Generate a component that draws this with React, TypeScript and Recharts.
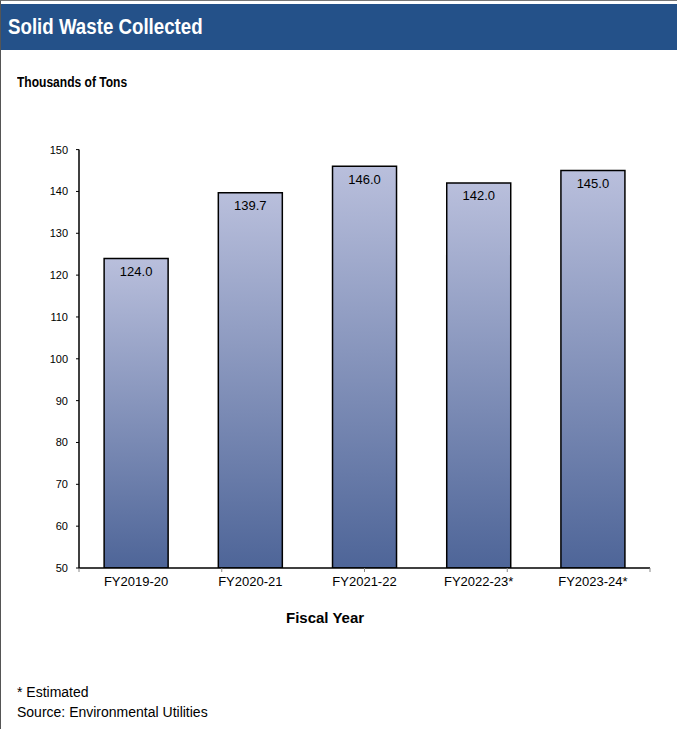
import React from 'react';
import { BarChart, Bar, XAxis, YAxis, LabelList } from 'recharts';

const categories = ['FY2019-20', 'FY2020-21', 'FY2021-22', 'FY2022-23*', 'FY2023-24*'];
const tons = [124.0, 139.7, 146.0, 142.0, 145.0];
const yTicks = [50, 60, 70, 80, 90, 100, 110, 120, 130, 140, 150];
const boundaryTicks = [0, 1, 2, 3, 4, 5];

const data = categories.map((c, i) => ({ year: c, tons: tons[i] }));

const font = '"Liberation Sans", Arial, sans-serif';

const App: React.FC = () => {
  return (
    <div
      style={{
        position: 'absolute',
        left: 0,
        top: 0,
        width: 677,
        height: 729,
        background: '#fff',
        fontFamily: font,
        borderLeft: '1px solid #555',
        borderTop: '1px solid #777',
        boxSizing: 'border-box',
        overflow: 'hidden',
      }}
    >
      <div
        style={{
          position: 'absolute',
          left: 0,
          top: 3,
          width: 677,
          height: 46,
          background: '#245189',
        }}
      >
        <span
          style={{
            position: 'absolute',
            left: 7,
            top: 0,
            color: '#fff',
            fontWeight: 'bold',
            fontSize: 22,
            lineHeight: '46px',
            whiteSpace: 'nowrap',
            transform: 'scaleX(0.85)',
            transformOrigin: 'left center',
          }}
        >
          Solid Waste Collected
        </span>
      </div>
      <div
        style={{
          position: 'absolute',
          left: 16,
          top: 73,
          fontSize: 14,
          fontWeight: 'bold',
          color: '#000',
          whiteSpace: 'nowrap',
          transform: 'scaleX(0.86)',
          transformOrigin: 'left center',
        }}
      >
        Thousands of Tons
      </div>

      <div style={{ position: 'absolute', left: -1, top: 140 }}>
        <BarChart
          width={677}
          height={460}
          data={data}
          margin={{ top: 8.6, right: 27, left: 19, bottom: 2 }}
          barCategoryGap="22%"
        >
          <defs>
            <linearGradient id="barFill" x1="0" y1="0" x2="0" y2="1">
              <stop offset="0%" stopColor="#b9bfdc" />
              <stop offset="100%" stopColor="#4e6598" />
            </linearGradient>
          </defs>
          <XAxis
            xAxisId="a"
            type="number"
            domain={[0, 5]}
            ticks={boundaryTicks}
            height={1}
            tickSize={4}
            tickFormatter={() => ''}
            axisLine={{ stroke: '#000', strokeWidth: 1.5 }}
            tickLine={{ stroke: '#888' }}
          />
          <XAxis
            xAxisId="b"
            dataKey="year"
            height={30}
            axisLine={false}
            tickLine={false}
            tickSize={0}
            tickMargin={8}
            tick={{ fontSize: 13, fill: '#000', fontFamily: font }}
            interval={0}
          />
          <YAxis
            width={60}
            domain={[50, 150]}
            ticks={yTicks}
            allowDataOverflow
            tickSize={3}
            tickMargin={8}
            axisLine={{ stroke: '#000', strokeWidth: 1.5 }}
            tickLine={{ stroke: '#000' }}
            tick={{ fontSize: 11, fill: '#000', fontFamily: font }}
          />
          <Bar
            xAxisId="b"
            dataKey="tons"
            fill="url(#barFill)"
            stroke="#000"
            strokeWidth={1.5}
            isAnimationActive={false}
          >
            <LabelList
              dataKey="tons"
              position="insideTop"
              offset={8}
              formatter={(v: any) => Number(v).toFixed(1)}
              style={{ fontSize: 13, fill: '#000', fontFamily: font }}
            />
          </Bar>
        </BarChart>
      </div>

      <div
        style={{ position: 'absolute', left: 285, top: 608, fontSize: 15, fontWeight: 'bold', color: '#000' }}
      >
        Fiscal Year
      </div>
      <div style={{ position: 'absolute', left: 16, top: 681, fontSize: 14, lineHeight: '20px', color: '#000' }}>
        <div>* Estimated</div>
        <div>Source: Environmental Utilities</div>
      </div>
    </div>
  );
};

export default App;
